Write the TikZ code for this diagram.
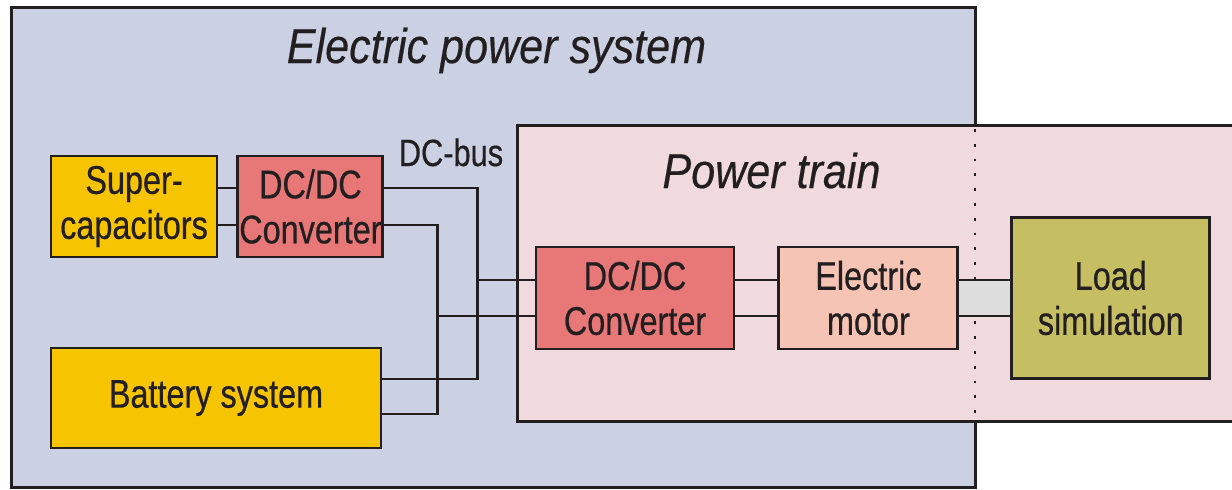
\documentclass[tikz,border=0pt]{standalone}
\usepackage{fontspec}
\setmainfont{Liberation Sans}
\newfontfamily\boxfont{Liberation Sans}[FakeStretch=0.81, FakeBold=0.5]
\newfontfamily\headfont{Liberation Sans}[FakeStretch=0.88, FakeBold=0.4]
\usepackage{tikz}
\usetikzlibrary{positioning}
\definecolor{inkcol}{HTML}{231F20}
\definecolor{syscol}{HTML}{CBD1E3}
\definecolor{traincol}{HTML}{F0DADE}
\definecolor{storecol}{HTML}{F6C400}
\definecolor{convcol}{HTML}{E87777}
\definecolor{motorcol}{HTML}{F5C4B4}
\definecolor{loadcol}{HTML}{C5BE63}
\definecolor{shaftcol}{HTML}{DCDDDC}
\tikzstyle{frame2} = [draw=inkcol, line width=1.5pt]
\tikzstyle{title2} = [text=inkcol, inner sep=0pt, font=\headfont\itshape\fontsize{24.5}{28}\selectfont]
\tikzstyle{storage2} = [rectangle, inner sep=0pt, align=center, draw=inkcol, line width=1.45pt, fill=storecol, text=inkcol, font=\boxfont\fontsize{20}{22.5}\selectfont]
\tikzstyle{converter2} = [storage2, fill=convcol, minimum height=50.5pt]
\tikzstyle{machine2} = [storage2, fill=motorcol, minimum width=89.5pt, minimum height=51pt]
\tikzstyle{loadbox2} = [storage2, fill=loadcol, minimum width=99pt, minimum height=80.5pt]
\tikzstyle{wire2} = [draw=inkcol, line width=1.4pt]
\tikzstyle{divider2} = [draw=inkcol, line width=1.3pt, dash pattern=on 1.4pt off 6pt]

\begin{document}
\begin{tikzpicture}[x=0.5pt, y=-0.5pt]
            \useasboundingbox (0,0) rectangle (1232,489);

            % Frames
            \filldraw [frame2, fill=syscol] (11,7) rectangle (975,487);
            \filldraw [frame2, fill=traincol] (517,125) rectangle (1245,421);
            \draw [divider2] (975,129) -- (975,419);
            \node (systitle) [title2, anchor=base] at (496.5,63) {Electric power system};
            \node (traintitle) [title2, anchor=base] at (771.5,188) {Power train};

            % Place nodes
            \node (supercap) [storage2, minimum width=83pt, minimum height=50.5pt] at (134,206.5) {Super-\\capacitors};
            \node (conv) [converter2, minimum width=72.5pt, right=9pt of supercap] {DC/DC\\Converter};
            \node (battery) [storage2, minimum width=165pt, minimum height=50pt] at (216,398) {Battery system};
            \node (conv2) [converter2, minimum width=99pt, minimum height=51pt] at (635,298) {DC/DC\\Converter};
            \node (motor) [machine2, right=21pt of conv2] {Electric\\motor};
            \node (load) [loadbox2, right=25.5pt of motor] {Load\\simulation};
            \node (buslabel) [text=inkcol, inner sep=0pt, anchor=base, font=\boxfont\fontsize{19}{22}\selectfont] at (451,166) {DC-bus};

            % Bus and ports
            \coordinate (busout) at (477.5,0);
            \coordinate (busin) at (437.5,0);
            \coordinate (batup) at ([yshift=9.5pt]battery.east);
            \coordinate (batlow) at ([yshift=-8pt]battery.east);
            \coordinate (conv2up) at ([yshift=9pt]conv2.west);
            \coordinate (conv2low) at ([yshift=-9pt]conv2.west);

            % Draw edges
            \draw [wire2] ([yshift=9.25pt]supercap.east) -- ([yshift=9.25pt]conv.west);
            \draw [wire2] ([yshift=-9.25pt]supercap.east) -- ([yshift=-9.25pt]conv.west);
            \draw [wire2] ([yshift=9.25pt]conv.east) -| (busout |- batup) -- (batup);
            \draw [wire2] ([yshift=-9.25pt]conv.east) -| (busin |- batlow) -- (batlow);
            \draw [wire2] (busout |- conv2up) -- (conv2up);
            \draw [wire2] (busin |- conv2low) -- (conv2low);
            \draw [wire2] ([yshift=9pt]conv2.east) -- ([yshift=9pt]motor.west);
            \draw [wire2] ([yshift=-9pt]conv2.east) -- ([yshift=-9pt]motor.west);
            \fill [shaftcol] ([yshift=9pt]motor.east) rectangle ([yshift=-9pt]load.west);
            \draw [wire2] ([yshift=9pt]motor.east) -- ([yshift=9pt]load.west);
            \draw [wire2] ([yshift=-9pt]motor.east) -- ([yshift=-9pt]load.west);
\end{tikzpicture}
\end{document}
